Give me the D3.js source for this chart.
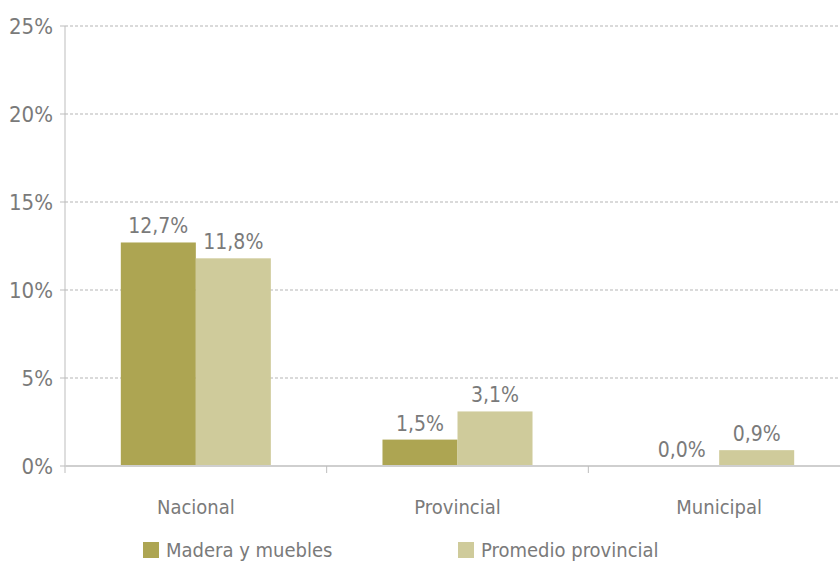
<!DOCTYPE html>
<html lang="es">
<head>
    <meta charset="UTF-8">
    <title>Madera y muebles</title>
    <script src="https://d3js.org/d3.v7.min.js"></script>
    <style>
        body { margin: 0; background: #fff; }
        text { font-family: "DejaVu Sans Condensed", "Liberation Sans Narrow", sans-serif; font-stretch: condensed; fill: #7a7a7a; }
        .grid line { stroke: #b5b5b5; stroke-dasharray: 3,2; stroke-width: 1px; }
    </style>
</head>
<body>
    <svg width="840" height="562"></svg>
    <script>
        const categories = ["Nacional", "Provincial", "Municipal"];
        const seriesNames = ["Madera y muebles", "Promedio provincial"];
        const madera = [12.7, 1.5, 0.0];
        const promedio = [11.8, 3.1, 0.9];
        const yTicks = [0, 5, 10, 15, 20, 25];
        const colors = ["#ada552", "#cfcb9b"];

        const svg = d3.select("svg");
        const mLeft = 65, mRight = 850, mTop = 26, mBottom = 466;

        const x = d3.scaleBand().domain(categories).range([mLeft, mRight]);
        const xs = d3.scaleBand().domain(seriesNames).range([0, x.bandwidth()]).paddingInner(0).paddingOuter(0.744);
        const y = d3.scaleLinear().domain([0, 25]).range([mBottom, mTop]);

        const fmt = v => v.toFixed(1).replace(".", ",") + "%";

        // grid
        svg.append("g").attr("class", "grid")
            .selectAll("line").data(yTicks.filter(t => t > 0)).join("line")
            .attr("x1", mLeft).attr("x2", 840)
            .attr("y1", d => y(d)).attr("y2", d => y(d));

        // y tick marks + labels
        const ya = svg.append("g");
        ya.selectAll("line").data(yTicks).join("line")
            .attr("x1", mLeft - 5).attr("x2", mLeft)
            .attr("y1", d => y(d)).attr("y2", d => y(d))
            .attr("stroke", "#bdbdbd");
        ya.selectAll("text").data(yTicks).join("text")
            .attr("x", 53).attr("y", d => y(d)).attr("dy", "0.36em")
            .attr("text-anchor", "end").style("font-size", "22px")
            .text(d => d + "%");
        svg.append("line").attr("x1", mLeft).attr("x2", mLeft)
            .attr("y1", mTop).attr("y2", mBottom + 7).attr("stroke", "#bdbdbd");

        // bars
        const rows = categories.map((c, i) => ({ cat: c, vals: [madera[i], promedio[i]] }));
        const groups = svg.selectAll(".grp").data(rows).join("g")
            .attr("transform", d => `translate(${x(d.cat)},0)`);
        groups.selectAll("rect").data(d => d.vals.map((v, j) => ({ v, s: seriesNames[j], j }))).join("rect")
            .attr("x", d => xs(d.s)).attr("width", xs.bandwidth())
            .attr("y", d => y(d.v)).attr("height", d => mBottom - y(d.v))
            .attr("fill", d => colors[d.j]);
        groups.selectAll(".lbl").data(d => d.vals.map((v, j) => ({ v, s: seriesNames[j] }))).join("text")
            .attr("class", "lbl")
            .attr("x", d => xs(d.s) + xs.bandwidth() / 2)
            .attr("y", d => y(d.v) - 9)
            .attr("text-anchor", "middle").style("font-size", "21px")
            .text(d => fmt(d.v));

        // x axis
        svg.append("line").attr("x1", mLeft).attr("x2", 840)
            .attr("y1", mBottom).attr("y2", mBottom).attr("stroke", "#cfcfcf").attr("stroke-width", 2);
        svg.selectAll(".xt").data(categories.slice(1)).join("line")
            .attr("x1", d => x(d)).attr("x2", d => x(d))
            .attr("y1", mBottom).attr("y2", mBottom + 7).attr("stroke", "#bdbdbd");
        svg.selectAll(".xl").data(categories).join("text")
            .attr("x", d => x(d) + x.bandwidth() / 2).attr("y", 514)
            .attr("text-anchor", "middle").style("font-size", "20px")
            .text(d => d);

        // legend
        const legX = [143, 458];
        const leg = svg.selectAll(".leg").data(seriesNames).join("g")
            .attr("transform", (d, i) => `translate(${legX[i]},542)`);
        leg.append("rect").attr("width", 16).attr("height", 16).attr("fill", (d, i) => colors[i]);
        leg.append("text").attr("x", 23).attr("y", 15).style("font-size", "20px").text(d => d);
    </script>
</body>
</html>
